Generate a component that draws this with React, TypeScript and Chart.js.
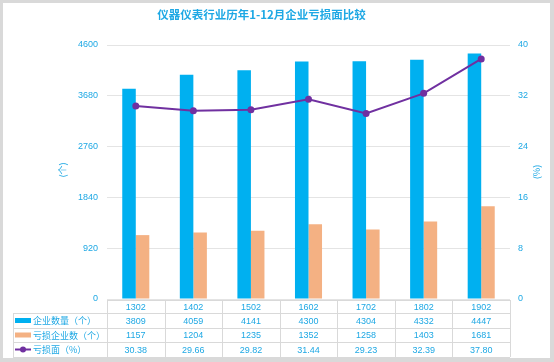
import React, { useEffect, useRef } from "react";
import { Chart, registerables } from "chart.js";

Chart.register(...registerables);

const categories = ["1302", "1402", "1502", "1602", "1702", "1802", "1902"];
const enterpriseCount = [3809, 4059, 4141, 4300, 4304, 4332, 4447];
const lossCount = [1157, 1204, 1235, 1352, 1258, 1403, 1681];
const lossRate = [30.38, 29.66, 29.82, 31.44, 29.23, 32.39, 37.8];
const lossRateLabels = ["30.38", "29.66", "29.82", "31.44", "29.23", "32.39", "37.80"];
const seriesNames = ["企业数量（个）", "亏损企业数（个）", "亏损面（%）"];
const titleText = "仪器仪表行业历年1-12月企业亏损面比较";

const BLUE = "#00b0f0";
const ORANGE = "#f4b183";
const PURPLE = "#7030a0";
const TEXT = "#1ea8e4";
const GRID = "#e4e4e4";
const TABLE_LINE = "#d9d9d9";
const NUM_FONT = "9px 'Liberation Sans', Arial, sans-serif";
const CJK_FONT = "9px 'Noto Sans CJK SC', sans-serif";

const tablePlugin = {
  id: "tablePlugin",
  afterDraw(chart: any) {
    const ctx = chart.ctx as CanvasRenderingContext2D;
    const area = chart.chartArea;
    const x = chart.scales.x;
    const n = categories.length;
    const cw = (area.right - area.left) / n;
    const rows = [area.bottom + 1, area.bottom + 14, area.bottom + 29, area.bottom + 43, area.bottom + 58];
    const legendLeft = 10;
    ctx.save();
    // title
    ctx.fillStyle = TEXT;
    ctx.font = "bold 11.5px 'Noto Sans CJK SC', sans-serif";
    ctx.textAlign = "center";
    ctx.textBaseline = "middle";
    ctx.fillText(titleText, 258.5, 12);
    // axis titles
    ctx.font = CJK_FONT;
    ctx.save();
    ctx.translate(60, 167);
    ctx.rotate(-Math.PI / 2);
    ctx.fillText("(个)", 0, 0);
    ctx.restore();
    ctx.save();
    ctx.translate(534, 169);
    ctx.rotate(-Math.PI / 2);
    ctx.fillText("(%)", 0, 0);
    ctx.restore();

    // table lines
    ctx.strokeStyle = TABLE_LINE;
    ctx.lineWidth = 1;
    ctx.beginPath();
    ctx.moveTo(area.left, rows[0] + 0.5);
    ctx.lineTo(area.right, rows[0] + 0.5);
    for (let r = 1; r < rows.length; r++) {
      ctx.moveTo(legendLeft, rows[r] + 0.5);
      ctx.lineTo(area.right, rows[r] + 0.5);
    }
    for (let c = 0; c <= n; c++) {
      const px = Math.round(area.left + c * cw) + 0.5;
      ctx.moveTo(px, rows[0]);
      ctx.lineTo(px, rows[4]);
    }
    ctx.moveTo(legendLeft + 0.5, rows[1]);
    ctx.lineTo(legendLeft + 0.5, rows[4]);
    ctx.stroke();

    // cells
    const rowData = [categories, enterpriseCount.map(String), lossCount.map(String), lossRateLabels];
    ctx.fillStyle = TEXT;
    ctx.font = NUM_FONT;
    ctx.textAlign = "center";
    for (let r = 0; r < 4; r++) {
      const cy = (rows[r] + rows[r + 1]) / 2 + 1;
      for (let i = 0; i < n; i++) {
        ctx.fillText(rowData[r][i], x.getPixelForValue(i), cy);
      }
    }
    // legend column
    ctx.textAlign = "left";
    ctx.font = CJK_FONT;
    for (let r = 0; r < 3; r++) {
      const cy = (rows[r + 1] + rows[r + 2]) / 2;
      if (r < 2) {
        ctx.fillStyle = r === 0 ? BLUE : ORANGE;
        ctx.fillRect(12, cy - 2.5, 16, 5);
      } else {
        ctx.strokeStyle = PURPLE;
        ctx.lineWidth = 2;
        ctx.beginPath();
        ctx.moveTo(12, cy);
        ctx.lineTo(28, cy);
        ctx.stroke();
        ctx.fillStyle = PURPLE;
        ctx.beginPath();
        ctx.arc(20, cy, 3, 0, Math.PI * 2);
        ctx.fill();
      }
      ctx.fillStyle = TEXT;
      ctx.fillText(seriesNames[r], 30, cy + 0.5);
    }
    ctx.restore();
  },
};

export default function App() {
  const ref = useRef<HTMLCanvasElement>(null);
  useEffect(() => {
    const chart = new Chart(ref.current!, {
      type: "bar",
      data: {
        labels: categories,
        datasets: [
          {
            type: "line",
            label: seriesNames[2],
            data: lossRate,
            yAxisID: "y1",
            borderColor: PURPLE,
            backgroundColor: PURPLE,
            borderWidth: 2,
            pointRadius: 3.5,
            pointBackgroundColor: PURPLE,
            pointBorderWidth: 0,
            tension: 0,
            order: 0,
          } as any,
          {
            label: seriesNames[0],
            data: enterpriseCount,
            backgroundColor: BLUE,
            yAxisID: "y",
            categoryPercentage: 0.47,
            barPercentage: 1,
            order: 1,
          },
          {
            label: seriesNames[1],
            data: lossCount,
            backgroundColor: ORANGE,
            yAxisID: "y",
            categoryPercentage: 0.47,
            barPercentage: 1,
            order: 1,
          },
        ],
      },
      options: {
        animation: false,
        responsive: false,
        maintainAspectRatio: false,
        layout: { padding: { top: 42, bottom: 59, left: 0, right: 0 } },
        plugins: { legend: { display: false }, title: { display: false }, tooltip: { enabled: false } },
        scales: {
          x: { display: false },
          y: {
            position: "left",
            min: 0,
            max: 4600,
            ticks: {
              stepSize: 920,
              color: TEXT,
              padding: 9,
              font: { family: "'Liberation Sans', Arial, sans-serif", size: 9 },
              callback: (v: any) => String(v),
            },
            grid: { color: GRID, drawTicks: false },
            border: { display: false },
            afterFit: (s: any) => {
              s.width = 104;
            },
          },
          y1: {
            position: "right",
            min: 0,
            max: 40,
            ticks: {
              stepSize: 8,
              color: TEXT,
              padding: 8,
              font: { family: "'Liberation Sans', Arial, sans-serif", size: 9 },
              callback: (v: any) => String(v),
            },
            grid: { display: false, drawTicks: false },
            border: { display: false },
            afterFit: (s: any) => {
              s.width = 40;
            },
          },
        },
      },
      plugins: [tablePlugin],
    });
    return () => chart.destroy();
  }, []);
  return (
    <div style={{ position: "fixed", left: 0, top: 0, width: 554, height: 362, background: "#d9d9d9" }}>
      <div style={{ position: "absolute", left: 3, top: 3, width: 547, height: 355, background: "#ffffff" }}>
        <canvas ref={ref} width={547} height={355} style={{ display: "block", width: 547, height: 355 }} />
      </div>
    </div>
  );
}
